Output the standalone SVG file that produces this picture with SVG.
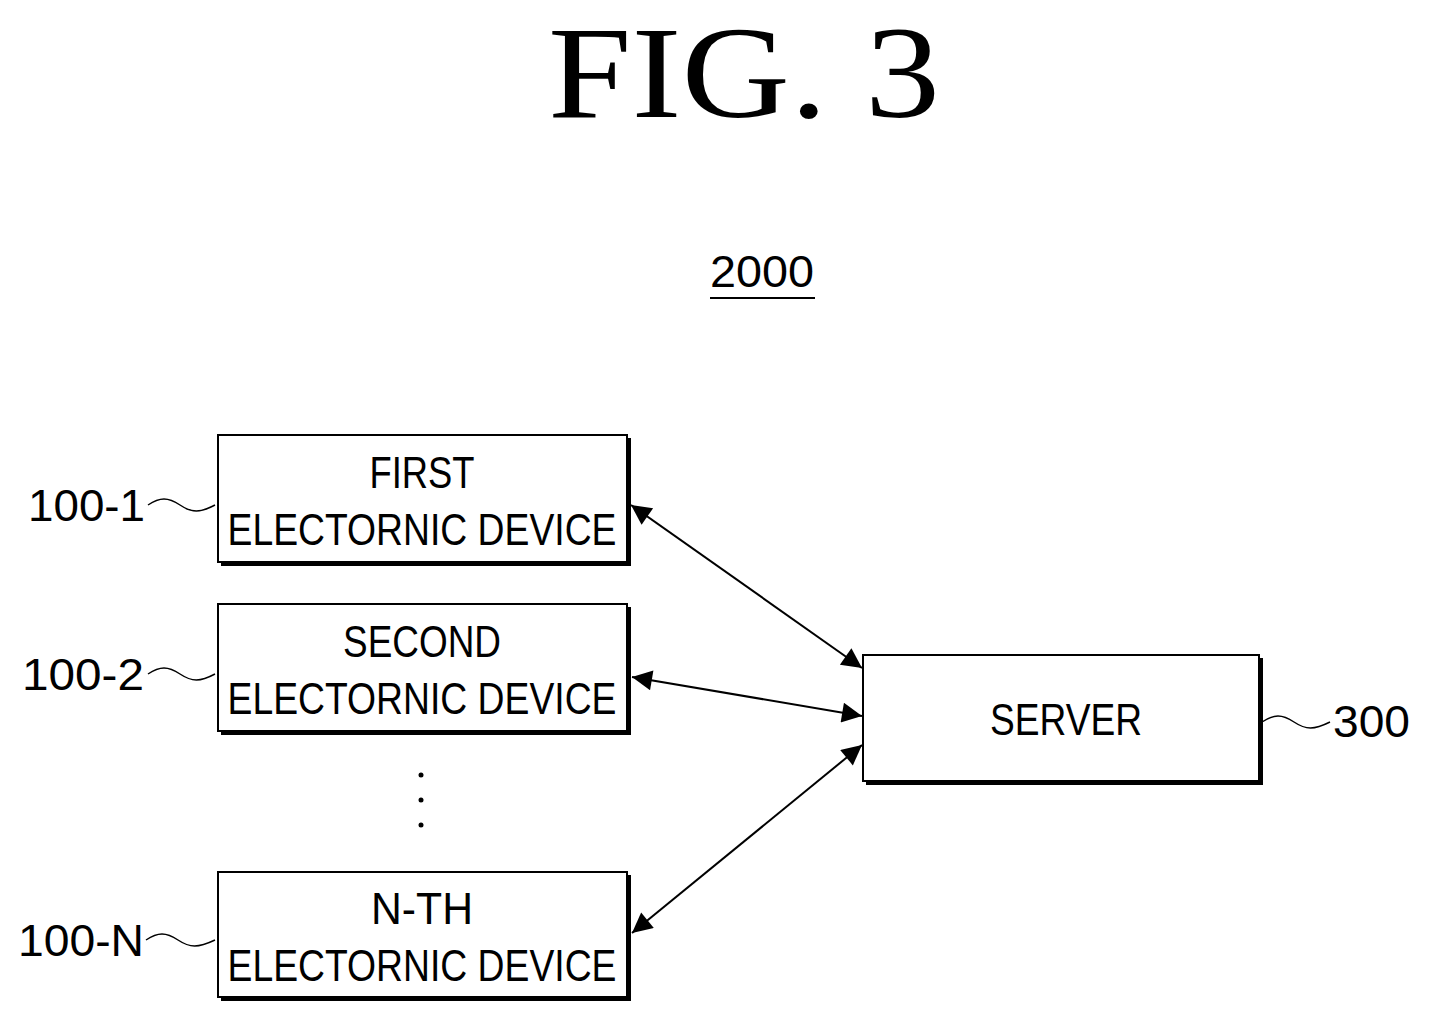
<svg xmlns="http://www.w3.org/2000/svg" width="1429" height="1023" viewBox="0 0 1429 1023">
<style>
.box{fill:#fff;stroke:#000;stroke-width:2}
.sh{fill:none;stroke:#000;stroke-width:4}
.t{font-family:"Liberation Sans",Arial,sans-serif;font-size:44px;text-anchor:middle}
.lb{font-family:"Liberation Sans",Arial,sans-serif;font-size:44px}
.sq{fill:none;stroke:#000;stroke-width:1.5}
.ar{stroke:#000;stroke-width:2;marker-start:url(#a);marker-end:url(#a)}
</style>
<defs><marker id="a" viewBox="0 0 10 10" refX="10" refY="5" markerWidth="28" markerHeight="20" markerUnits="userSpaceOnUse" orient="auto-start-reverse"><path d="M0,0 L10,5 L0,10 z"/></marker></defs>
<text x="548" y="117" font-family="Liberation Serif,serif" font-size="132" textLength="392" lengthAdjust="spacingAndGlyphs">FIG. 3</text>
<text x="762" y="287" class="t" textLength="104" lengthAdjust="spacingAndGlyphs">2000</text>
<line x1="710" y1="298" x2="815" y2="298" stroke="#000" stroke-width="2"/>
<g id="n1"><path class="sh" d="M629,438 V564 H221"/><rect class="box" x="218" y="435" width="409" height="127"/>
<text class="t" x="422" y="488" textLength="105" lengthAdjust="spacingAndGlyphs">FIRST</text>
<text class="t" x="422" y="545" textLength="389" lengthAdjust="spacingAndGlyphs">ELECTORNIC DEVICE</text></g>
<g id="n2"><path class="sh" d="M629,607 V733 H221"/><rect class="box" x="218" y="604" width="409" height="127"/>
<text class="t" x="422" y="657" textLength="158" lengthAdjust="spacingAndGlyphs">SECOND</text>
<text class="t" x="422" y="714" textLength="389" lengthAdjust="spacingAndGlyphs">ELECTORNIC DEVICE</text></g>
<g id="nN"><path class="sh" d="M629,875 V999 H221"/><rect class="box" x="218" y="872" width="409" height="125"/>
<text class="t" x="422" y="924" textLength="102" lengthAdjust="spacingAndGlyphs">N-TH</text>
<text class="t" x="422" y="981" textLength="389" lengthAdjust="spacingAndGlyphs">ELECTORNIC DEVICE</text></g>
<g id="srv"><path class="sh" d="M1261,658 V783 H866"/><rect class="box" x="863" y="655" width="396" height="126"/>
<text class="t" x="1066" y="735" textLength="152" lengthAdjust="spacingAndGlyphs">SERVER</text></g>
<g id="dots" fill="#000"><circle cx="421" cy="775" r="2.5"/><circle cx="421" cy="800" r="2.5"/><circle cx="421" cy="825" r="2.5"/></g>
<g id="labels">
<text class="lb" x="28" y="521" textLength="117" lengthAdjust="spacingAndGlyphs">100-1</text>
<text class="lb" x="22" y="690" textLength="122" lengthAdjust="spacingAndGlyphs">100-2</text>
<text class="lb" x="18" y="956" textLength="126" lengthAdjust="spacingAndGlyphs">100-N</text>
<text class="lb" x="1333" y="737" textLength="77" lengthAdjust="spacingAndGlyphs">300</text>
<path class="sq" d="M148,505 c12,-8 20,-8 32,0 s20,8 35,0"/>
<path class="sq" d="M148,674 c12,-8 20,-8 32,0 s20,8 35,0"/>
<path class="sq" d="M146,940 c12,-8 20,-8 32,0 s20,8 37,0"/>
<path class="sq" d="M1262,722 c12,-8 20,-8 32,0 s20,8 36,0"/>
</g>
<g id="connectors">
<line class="ar" x1="631" y1="505" x2="862" y2="668"/>
<line class="ar" x1="632" y1="677" x2="862" y2="716"/>
<line class="ar" x1="632" y1="933" x2="862" y2="745"/>
</g>
</svg>
